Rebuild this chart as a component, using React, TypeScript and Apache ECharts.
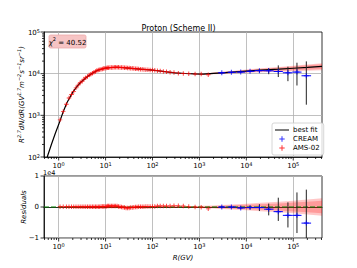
import React, { useEffect, useRef } from 'react';
import * as echarts from 'echarts';

// ---------------- data ----------------
const amsR = [1.07,1.25,1.46,1.66,1.88,2.1,2.34,2.6,2.87,3.16,3.46,3.78,4.12,4.47,4.85,5.24,5.65,6.08,6.53,7.0,7.5,8.01,8.55,9.11,9.69,10.3,10.9,11.6,12.4,13.3,14.3,15.3,16.4,17.6,18.9,20.3,21.8,23.5,25.3,27.3,29.5,31.8,34.3,37.0,40.0,43.2,46.8,50.8,55.2,60.2,65.8,72.3,79.9,88.8,99.4,112,127,146,170,199,237,287,355,453,593,808,1090,1540];
const amsV = [780,1230,1850,2600,3150,3750,4570,5300,6050,6600,7400,7950,8500,9250,9700,10300,10850,11350,11850,12200,12500,12750,13000,13250,13450,13650,13800,13900,14000,14100,14150,14200,14200,14200,14200,14150,14100,14000,13900,13800,13700,13600,13500,13400,13300,13200,13050,12950,12850,12750,12600,12500,12400,12300,12200,12000,11800,11600,11350,11100,10850,10600,10300,10100,10000,9850,9750,9450];
const amsRes = [0.01,0.01,0.01,0.01,0.01,0.01,0.01,0.01,0.01,0.01,0.01,0.01,0.01,0.01,0.01,0.01,0.01,0.01,0.01,0.01,0.01,0.02,0.02,0.02,0.02,
  0.02,0.03,0.03,0.03,0.03,0.03,0.03,0.03,0.03,0.02,0.01,0.0,
  -0.01,-0.02,-0.03,-0.03,-0.03,-0.02,-0.02,-0.01,
  0.0,0.0,0.01,0.01,0.01,0.01,0.02,0.02,0.02,0.02,
  0.02,0.03,0.03,0.03,0.03,0.03,0.04,0.04,0.03,
  0.02,0.0,-0.01,-0.06];

const creamR = [3000,4800,7600,12000,19000,30000,48000,77000,120000,190000];
const creamV = [10500,10800,10900,11400,11800,11700,11300,10500,10900,8900];
const creamErrUp = [300,300,400,500,1100,1800,4500,4200,7400,10800];
const creamErrDown = [300,300,400,500,1100,2000,3000,3900,5700,7100];
const creamBinLo = [2500,4000,6300,10000,15000,24000,38000,60000,95000,150000];
const creamBinHi = [3600,6000,9500,15000,24000,38000,60000,95000,150000,240000];
const creamRes = [0.0,0.0,-0.03,-0.02,-0.02,-0.07,-0.15,-0.27,-0.27,-0.52];

const fitR = [0.57,0.7,0.85,1.0,1.25,1.5,2,2.5,3,4,5,6.5,8,10,13,17,22,30,40,55,75,100,150,200,300,500,800,1200,2000,3000,5000,10000,20000,50000,100000,200000,410000];
const fitV = [100,200,370,600,1220,2000,3600,5050,6300,8300,9950,11800,12750,13550,14050,14150,14050,13650,13250,12800,12450,12150,11550,11050,10500,10100,9850,9750,10150,10500,10850,11500,12100,12850,13500,14150,14900];
const fitRelOuter = [0.015,0.015,0.015,0.015,0.015,0.015,0.015,0.015,0.015,0.015,0.015,0.015,0.015,0.015,0.015,0.015,0.015,0.015,0.015,0.015,0.015,0.015,0.015,0.015,0.02,0.025,0.03,0.04,0.05,0.06,0.075,0.09,0.11,0.13,0.15,0.17,0.19];
const fitRelInner = [0.01,0.01,0.01,0.01,0.01,0.01,0.01,0.01,0.01,0.01,0.01,0.01,0.01,0.01,0.01,0.01,0.01,0.01,0.01,0.01,0.01,0.01,0.01,0.01,0.013,0.017,0.02,0.027,0.034,0.04,0.05,0.062,0.075,0.09,0.105,0.12,0.135];

const chiSquare = 40.52;
const residualScale = 1e4;

// ---------------- layout ----------------
const FONT = 'DejaVu Sans';
const X_MIN = 0.487;
const X_MAX = 4.1e5;
const Y1_MIN = 100;
const Y1_MAX = 1e5;
const Y2_MIN = -1;
const Y2_MAX = 1;
const G1 = { left: 44, top: 32, width: 278, height: 125 };
const G2 = { left: 44, top: 176, width: 278, height: 62 };

const plusPath = 'path://M4,0H6V4H10V6H6V10H4V6H0V4H4Z';
const legendPlus = 'path://M0,0L0.01,0L0,0.01Z M14,8L13.99,8L14,7.99Z M6.5,1.3H7.5V3.5H9.7V4.5H7.5V6.7H6.5V4.5H4.3V3.5H6.5Z';
const legendLine = 'path://M0,0L0.01,0L0,0.01Z M14,8L13.99,8L14,7.99Z M0,3.4H14V4.6H0Z';

const richTick = {
  b: { fontSize: 7, fontFamily: FONT, color: '#000', lineHeight: 8, verticalAlign: 'bottom' },
  s: { fontSize: 5, fontFamily: FONT, color: '#000', lineHeight: 5, verticalAlign: 'top' },
};

function fmtPow(v: number) {
  const e = Math.log10(v);
  const r = Math.round(e);
  if (Math.abs(e - r) > 1e-6) return '';
  return `{b|10}{s|${r < 0 ? '\u2212' + -r : r}}`;
}

function decadeTicks(min: number, max: number) {
  const major: number[] = [];
  const minor: number[] = [];
  for (let e = Math.floor(Math.log10(min)); e <= Math.ceil(Math.log10(max)); e++) {
    for (let m = 1; m <= 9; m++) {
      const v = m * Math.pow(10, e);
      if (v < min * 0.9999 || v > max * 1.0001) continue;
      (m === 1 ? major : minor).push(v);
    }
  }
  return { major, minor };
}

export default function App() {
  const ref = useRef<HTMLDivElement>(null);
  useEffect(() => {
    if (!ref.current) return;
    const chart = echarts.init(ref.current, undefined, { renderer: 'svg' });

    const xt = decadeTicks(X_MIN, X_MAX);
    const yt = decadeTicks(Y1_MIN, Y1_MAX);

    const bandSeries = (xi: number, rel: number[], residual: boolean, color: string) => ({
      type: 'custom',
      xAxisIndex: xi,
      yAxisIndex: xi,
      silent: true,
      clip: true,
      z: 1,
      data: [[1, residual ? 0 : 1000]],
      renderItem: (_p: any, api: any) => {
        const pts: number[][] = [];
        for (let i = 0; i < fitR.length; i++) {
          const up = residual ? (fitV[i] * rel[i]) / residualScale : fitV[i] * (1 + rel[i]);
          pts.push(api.coord([fitR[i], up]));
        }
        for (let i = fitR.length - 1; i >= 0; i--) {
          const lo = residual ? (-fitV[i] * rel[i]) / residualScale : fitV[i] * (1 - rel[i]);
          pts.push(api.coord([fitR[i], lo]));
        }
        return { type: 'polygon', shape: { points: pts }, style: { fill: color, stroke: 'none' } };
      },
    });

    const errSeries = (xi: number, data: number[][]) => ({
      type: 'custom',
      xAxisIndex: xi,
      yAxisIndex: xi,
      silent: true,
      clip: true,
      z: 4,
      data,
      renderItem: (_p: any, api: any) => {
        const x = api.value(0), y = api.value(1);
        const pLo = api.coord([x, api.value(2)]);
        const pHi = api.coord([x, api.value(3)]);
        const bL = api.coord([api.value(4), y]);
        const bH = api.coord([api.value(5), y]);
        return {
          type: 'group',
          children: [
            { type: 'line', shape: { x1: pLo[0], y1: pLo[1], x2: pHi[0], y2: pHi[1] }, style: { stroke: '#222', lineWidth: 1 } },
            { type: 'line', shape: { x1: bL[0], y1: bL[1], x2: bH[0], y2: bH[1] }, style: { stroke: '#0000ff', lineWidth: 1 } },
          ],
        };
      },
    });

    const tickSeries = (xi: number, data: number[][], vertical: boolean) => ({
      type: 'custom',
      xAxisIndex: xi,
      yAxisIndex: xi,
      silent: true,
      clip: false,
      z: 6,
      data,
      renderItem: (_p: any, api: any) => {
        const p = api.coord([api.value(0), api.value(1)]);
        const len = api.value(2);
        return {
          type: 'line',
          shape: vertical
            ? { x1: p[0], y1: p[1], x2: p[0], y2: p[1] + len }
            : { x1: p[0], y1: p[1], x2: p[0] - len, y2: p[1] },
          style: { stroke: '#000', lineWidth: 0.8 },
        };
      },
    });

    const xTickData = (ymin: number) => [
      ...xt.major.map((v) => [v, ymin, 3.5]),
      ...xt.minor.map((v) => [v, ymin, 2]),
    ];

    const creamErrTop = creamR.map((r, i) => [r, creamV[i], creamV[i] - creamErrDown[i], creamV[i] + creamErrUp[i], creamBinLo[i], creamBinHi[i]]);
    const creamErrRes = creamR.map((r, i) => [r, creamRes[i], creamRes[i] - creamErrDown[i] / residualScale, creamRes[i] + creamErrUp[i] / residualScale, creamBinLo[i], creamBinHi[i]]);

    const xAxisBase = (gi: number, name: string, margin: number) => ({
      type: 'log',
      logBase: 10,
      gridIndex: gi,
      min: X_MIN,
      max: X_MAX,
      name,
      nameLocation: 'middle',
      nameGap: 16,
      nameMoveOverlap: false,
      nameTextStyle: { fontFamily: FONT, fontSize: 7, fontStyle: 'italic', color: '#000' },
      axisLine: { show: true, lineStyle: { color: '#000', width: 0.8 } },
      axisTick: { show: false },
      axisLabel: { formatter: fmtPow, rich: richTick, margin, showMinLabel: false, showMaxLabel: false },
      splitLine: { show: true, showMinLine: false, showMaxLine: false, lineStyle: { color: '#b0b0b0', width: 0.8 } },
      minorTick: { show: false },
    });

    const option: any = {
      animation: false,
      textStyle: { fontFamily: FONT },
      title: {
        text: 'Proton (Scheme II)',
        left: 'center',
        top: 19,
        textStyle: { fontFamily: FONT, fontSize: 8, fontWeight: 'normal', color: '#000' },
      },
      grid: [
        { ...G1, show: true, borderColor: '#000', borderWidth: 0.8, backgroundColor: 'transparent' },
        { ...G2, show: true, borderColor: '#000', borderWidth: 0.8, backgroundColor: 'transparent' },
      ],
      xAxis: [xAxisBase(0, '', 4), xAxisBase(1, 'R(GV)', 4)],
      yAxis: [
        {
          type: 'log',
          logBase: 10,
          gridIndex: 0,
          min: Y1_MIN,
          max: Y1_MAX,
          name: '{i|R}{s|2.7}{i|dN/dR(GV}{s|1.7}{i|m}{s|\u22122}{i|s}{s|\u22121}{i|sr}{s|\u22121}{i|)}',
          nameLocation: 'middle',
          nameRotate: 90,
          nameGap: 19,
          nameMoveOverlap: false,
          nameTextStyle: {
            rich: {
              i: { fontFamily: FONT, fontSize: 7, fontStyle: 'italic', color: '#000', lineHeight: 9, verticalAlign: 'bottom' },
              s: { fontFamily: FONT, fontSize: 5, fontStyle: 'italic', color: '#000', lineHeight: 5, verticalAlign: 'top' },
            },
          },
          axisLine: { show: true, lineStyle: { color: '#000', width: 0.8 } },
          axisTick: { show: false },
          axisLabel: { formatter: fmtPow, rich: richTick, margin: 4 },
          splitLine: { show: true, showMinLine: false, showMaxLine: false, lineStyle: { color: '#b0b0b0', width: 0.8 } },
        },
        {
          type: 'value',
          gridIndex: 1,
          min: Y2_MIN,
          max: Y2_MAX,
          interval: 1,
          name: 'Residuals',
          nameLocation: 'middle',
          nameRotate: 90,
          nameGap: 17,
          nameMoveOverlap: false,
          nameTextStyle: { fontFamily: FONT, fontSize: 7, fontStyle: 'italic', color: '#000' },
          axisLine: { show: true, lineStyle: { color: '#000', width: 0.8 } },
          axisTick: { show: false },
          axisLabel: {
            fontFamily: FONT,
            fontSize: 7,
            color: '#000',
            margin: 5,
            formatter: (v: number) => (v < 0 ? '\u2212' + -v : String(v)),
          },
          splitLine: { show: true, lineStyle: { color: '#b0b0b0', width: 0.8 } },
        },
      ],
      legend: {
        left: 272,
        top: 123,
        orient: 'vertical',
        itemGap: 1,
        itemWidth: 14,
        itemHeight: 8,
        padding: [3, 4, 3, 3],
        borderColor: '#cccccc',
        borderWidth: 0.8,
        borderRadius: 2,
        backgroundColor: 'rgba(255,255,255,0.8)',
        textStyle: { fontFamily: FONT, fontSize: 7, color: '#000', padding: [0, 0, 0, -1] },
        data: [
          { name: 'best fit', icon: legendLine },
          { name: 'CREAM', icon: legendPlus },
          { name: 'AMS-02', icon: legendPlus },
        ],
      },
      graphic: [
        {
          type: 'rect',
          shape: { x: 49, y: 35, width: 37, height: 13, r: 1.5 },
          style: { fill: '#f6c4c4', stroke: '#eeaaaa', lineWidth: 0.8 },
          z: 10,
        },
        {
          type: 'text',
          x: 67.5,
          y: 41.5,
          z: 11,
          style: {
            text: `{i|\u03c7}{s|2}{n| = ${chiSquare.toFixed(2)}}`,
            align: 'center',
            verticalAlign: 'middle',
            rich: {
              i: { fontFamily: FONT, fontSize: 7, fontStyle: 'italic', fill: '#000', lineHeight: 10, verticalAlign: 'bottom' },
              s: { fontFamily: FONT, fontSize: 5, fill: '#000', lineHeight: 6, verticalAlign: 'top' },
              n: { fontFamily: FONT, fontSize: 7, fill: '#000', lineHeight: 10, verticalAlign: 'bottom' },
            },
          },
        },
        {
          type: 'text',
          x: 43,
          y: 169.5,
          style: { text: '1e4', fontFamily: FONT, fontSize: 6.5, fill: '#000' },
        },
      ],
      series: [
        bandSeries(0, fitRelOuter, false, 'rgba(255,0,0,0.22)'),
        bandSeries(0, fitRelInner, false, 'rgba(255,0,0,0.22)'),
        {
          name: 'best fit',
          type: 'line',
          xAxisIndex: 0,
          yAxisIndex: 0,
          data: fitR.map((r, i) => [r, fitV[i]]),
          showSymbol: false,
          smooth: false,
          color: '#000',
          lineStyle: { color: '#000', width: 1.2 },
          z: 3,
          clip: true,
        },
        errSeries(0, creamErrTop),
        {
          name: 'CREAM',
          type: 'scatter',
          xAxisIndex: 0,
          yAxisIndex: 0,
          data: creamR.map((r, i) => [r, creamV[i]]),
          symbol: plusPath,
          symbolSize: 5,
          color: '#0000ff',
          itemStyle: { color: '#0000ff' },
          z: 5,
        },
        {
          name: 'AMS-02',
          type: 'scatter',
          xAxisIndex: 0,
          yAxisIndex: 0,
          data: amsR.map((r, i) => [r, amsV[i]]),
          symbol: plusPath,
          symbolSize: 4.5,
          color: '#ff0000',
          itemStyle: { color: '#ff0000' },
          z: 5,
        },
        bandSeries(1, fitRelOuter, true, 'rgba(255,0,0,0.22)'),
        bandSeries(1, fitRelInner, true, 'rgba(255,0,0,0.22)'),
        {
          type: 'line',
          xAxisIndex: 1,
          yAxisIndex: 1,
          data: [[X_MIN, 0], [X_MAX, 0]],
          showSymbol: false,
          silent: true,
          lineStyle: { color: '#008000', width: 1.2, type: [5, 2] },
          z: 3,
        },
        errSeries(1, creamErrRes),
        {
          type: 'scatter',
          xAxisIndex: 1,
          yAxisIndex: 1,
          data: creamR.map((r, i) => [r, creamRes[i]]),
          symbol: plusPath,
          symbolSize: 5,
          itemStyle: { color: '#0000ff' },
          z: 5,
        },
        {
          type: 'scatter',
          xAxisIndex: 1,
          yAxisIndex: 1,
          data: amsR.map((r, i) => [r, amsRes[i]]),
          symbol: plusPath,
          symbolSize: 4.5,
          itemStyle: { color: '#ff0000' },
          z: 5,
        },
        tickSeries(0, xTickData(Y1_MIN), true),
        tickSeries(1, xTickData(Y2_MIN), true),
        tickSeries(0, [...yt.major.map((v) => [X_MIN, v, 3.5]), ...yt.minor.map((v) => [X_MIN, v, 2])], false),
        tickSeries(1, [-1, 0, 1].map((v) => [X_MIN, v, 3.5]), false),
      ],
    };

    chart.setOption(option);
    return () => chart.dispose();
  }, []);

  return <div ref={ref} style={{ width: 357, height: 268, position: 'absolute', left: 0, top: 0 }} />;
}
